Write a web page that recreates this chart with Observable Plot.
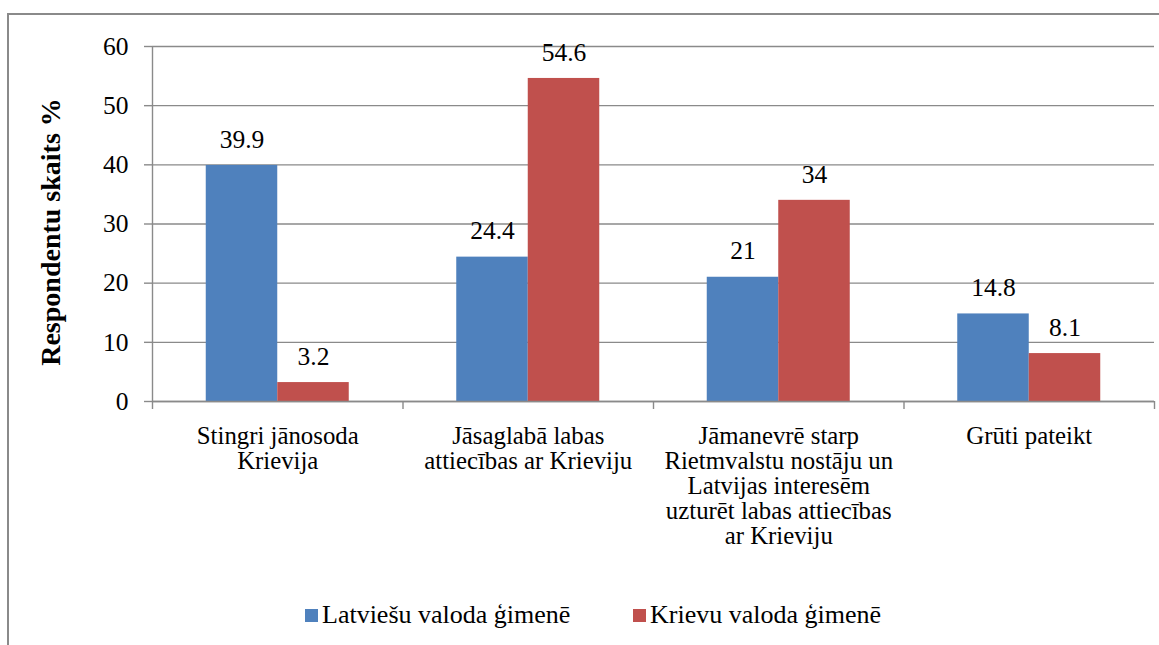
<!DOCTYPE html>
<html><head><meta charset="utf-8">
<script src="https://cdn.jsdelivr.net/npm/d3@7"></script>
<script src="https://cdn.jsdelivr.net/npm/@observablehq/plot@0.6"></script>
<style>
body{margin:0;background:#fff;}
#wrap{position:relative;width:1159px;height:645px;overflow:hidden;font-family:"Liberation Serif","Times New Roman",serif;background:#fff;}
#frame{position:absolute;left:7px;top:13px;width:1170px;height:660px;border-left:2px solid #8a8a8a;border-top:2px solid #8a8a8a;}
#chart{position:absolute;left:0;top:0;width:1159px;}
.leg{position:absolute;top:600px;height:30px;font-size:26px;line-height:30px;color:#000;display:flex;align-items:center;white-space:nowrap;}
.sw{width:13px;height:13px;margin-right:4px;display:inline-block;}
</style></head>
<body>
<div id="wrap"><div id="frame"></div><div id="chart"></div>
<div id="legend"></div></div>
<script>
const categories = [
  "Stingri jānosoda\nKrievija",
  "Jāsaglabā labas\nattiecības ar Krieviju",
  "Jāmanevrē starp\nRietmvalstu nostāju un\nLatvijas interesēm\nuzturēt labas attiecības\nar Krieviju",
  "Grūti pateikt"
];
const seriesNames = ["Latviešu valoda ģimenē", "Krievu valoda ģimenē"];
const latvian = [39.9, 24.4, 21, 14.8];
const russian = [3.2, 54.6, 34, 8.1];
const yTicks = [0, 10, 20, 30, 40, 50, 60];
const yLabel = "Respondentu skaits %";
const colors = ["#4F81BD", "#C0504D"];

const latRows = categories.map((c, i) => ({cat: c, series: seriesNames[0], value: latvian[i]}));
const rusRows = categories.map((c, i) => ({cat: c, series: seriesNames[1], value: russian[i]}));

const W = 1159, H = 590, left = 152, right = 1154;
const half = (right - left) / categories.length / 2;
const barW = 71.5;
const grid = "#8a8a8a";
const FONT = '"Liberation Serif","Times New Roman",serif';
const FS = 25.5;
const CFS = 24.8;

const chart = Plot.plot({
  width: W, height: H,
  marginLeft: left, marginRight: W - right, marginTop: 46, marginBottom: H - 401,
  style: {fontSize: FS + "px", fontFamily: FONT, color: "#000", background: "transparent"},
  x: {domain: categories, padding: 0, round: false},
  y: {domain: [0, 60]},
  color: {domain: seriesNames, range: colors},
  marks: [
    Plot.gridY(yTicks, {stroke: grid, strokeOpacity: 1, strokeWidth: 1.4}),
    Plot.axisY(yTicks, {tickSize: 8, tickPadding: 16, stroke: grid, strokeWidth: 1.4, label: null, fontSize: FS}),
    Plot.axisX({tickSize: 0, tickPadding: 25, lineHeight: 1.01, fontSize: CFS, label: null, tickFormat: d => d}),
    Plot.text([yLabel], {text: d => d, frameAnchor: "left", rotate: -90, dx: -101, dy: 8, fontSize: 28, fontWeight: "bold", lineAnchor: "middle", textAnchor: "middle"}),
    Plot.barY(latRows, {x: "cat", y: "value", fill: "series", insetLeft: half - barW, insetRight: half}),
    Plot.barY(rusRows, {x: "cat", y: "value", fill: "series", insetLeft: half, insetRight: half - barW}),
    Plot.ruleY([0], {stroke: grid, strokeWidth: 1.4}),
    Plot.ruleX(categories, {x: d => d, dx: -half, y1: -1.35, y2: d => d === categories[0] ? 60 : 0, stroke: grid, strokeWidth: 1.4}),
    Plot.ruleX([categories[categories.length - 1]], {x: d => d, dx: half, y1: -1.35, y2: 0, stroke: grid, strokeWidth: 1.4}),
    Plot.text(latRows, {x: "cat", y: "value", text: d => String(d.value), dx: -barW / 2, dy: -26, fontSize: FS, lineAnchor: "middle"}),
    Plot.text(rusRows, {x: "cat", y: "value", text: d => String(d.value), dx: barW / 2, dy: -26, fontSize: FS, lineAnchor: "middle"})
  ]
});
document.getElementById("chart").appendChild(chart);

const legendLefts = [305, 633];
const legend = document.getElementById("legend");
seriesNames.forEach((name, i) => {
  const item = document.createElement("div");
  item.className = "leg";
  item.style.left = legendLefts[i] + "px";
  const sw = document.createElement("span");
  sw.className = "sw";
  sw.style.background = colors[i];
  item.appendChild(sw);
  item.appendChild(document.createTextNode(name));
  legend.appendChild(item);
});
</script>
</body></html>
